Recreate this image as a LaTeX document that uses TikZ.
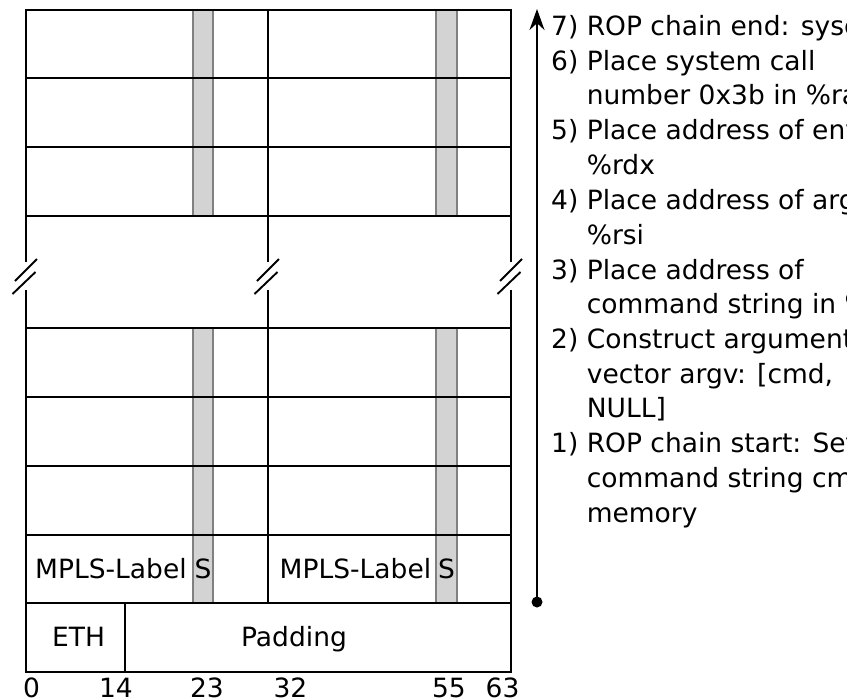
\documentclass[tikz,border=0pt]{standalone}
\usepackage{fontspec}
\setmainfont{DejaVu Sans}
\usepackage{tikz}
\usetikzlibrary{arrows.meta,positioning}
\definecolor{sbitFill}{HTML}{D3D3D3}
\definecolor{sbitLine}{HTML}{808080}
\tikzset{
  gridLine/.style={
    draw=black,
    line width=1.8pt
  },
  sbitBar/.style={
    fill=sbitFill,
    draw=sbitLine,
    line width=1.6pt
  },
  breakSlash/.style={
    draw=black,
    line width=1.9pt
  },
  cellText/.style={
    font=\fontsize{26.5}{34.6}\selectfont,
    inner sep=0pt
  },
  bitLabel/.style={
    cellText,
    anchor=base
  },
  stepText/.style={
    cellText,
    anchor=north west
  },
  chainArrow/.style={
    -{Stealth[length=21pt,width=15pt]},
    line width=1.9pt,
    draw=black
  }
}
\newcommand{\breakmark}[1]{%
  \draw[breakSlash] (#1-11,281) -- (#1+11,259) (#1-13.5,294) -- (#1+9.5,272);}
\newcommand{\steplines}[2]{\begin{tabular}{@{}l@{\ }l@{}}#1 & #2\end{tabular}}

\begin{document}
\begin{tikzpicture}[x=1pt,y=-1pt]
  \useasboundingbox (0,0) rectangle (867,699);
  \clip (0,0) rectangle (846,699);

  % S bit columns
  \filldraw[sbitBar] (193,10) rectangle (213,216);
  \filldraw[sbitBar] (193,328) rectangle (213,603);
  \filldraw[sbitBar] (436,10) rectangle (457,216);
  \filldraw[sbitBar] (436,328) rectangle (457,603);

  % frame and rows
  \draw[gridLine] (26,262) -- (26,10) -- (511,10) -- (511,262);
  \draw[gridLine] (26,290) -- (26,672) -- (511,672) -- (511,290);
  \draw[gridLine] (268,10) -- (268,262) (268,290) -- (268,603);
  \draw[gridLine] (26,78) -- (511,78) (26,147) -- (511,147) (26,216) -- (511,216);
  \draw[gridLine] (26,328) -- (511,328) (26,397) -- (511,397) (26,466) -- (511,466);
  \draw[gridLine] (26,535) -- (511,535) (26,603) -- (511,603);
  \draw[gridLine] (125,603) -- (125,672);

  % cut marks
  \breakmark{26}
  \breakmark{268}
  \breakmark{511}

  \node[cellText, anchor=base west] (label1) at (35,578) {MPLS-Label};
  \node[cellText, anchor=base] (sbit1) at (203,578) {S};
  \node[cellText, anchor=base west] (label2) at (279.5,578) {MPLS-Label};
  \node[cellText, anchor=base] (sbit2) at (446.5,578) {S};
  \node[cellText, anchor=base] (eth) at (78.5,646) {ETH};
  \node[cellText, anchor=base] (padding) at (294,646) {Padding};

  \node[bitLabel] (bit0) at (31.5,697.5) {0};
  \node[bitLabel] (bit14) at (116,697.5) {14};
  \node[bitLabel] (bit23) at (207,697.5) {23};
  \node[bitLabel] (bit32) at (290.5,697.5) {32};
  \node[bitLabel] (bit55) at (449,697.5) {55};
  \node[bitLabel] (bit63) at (502.5,697.5) {63};

  % chain order
  \coordinate (chainStart) at (537,602);
  \coordinate (chainEnd) at (537,9);
  \draw[chainArrow] (chainStart) -- (chainEnd);
  \fill (chainStart) circle (5.5);

  \node[stepText] (s7) at (551,10.8) {\steplines{7)}{ROP chain end: syscall}};
  \node[stepText, below=0pt of s7.south west, anchor=north west] (s6)
    {\steplines{6)}{Place system call\\ & number 0x3b in \%rax}};
  \node[stepText, below=0pt of s6.south west, anchor=north west] (s5)
    {\steplines{5)}{Place address of envp in\\ & \%rdx}};
  \node[stepText, below=0pt of s5.south west, anchor=north west] (s4)
    {\steplines{4)}{Place address of argv in\\ & \%rsi}};
  \node[stepText, below=0pt of s4.south west, anchor=north west] (s3)
    {\steplines{3)}{Place address of\\ & command string in \%rdi}};
  \node[stepText, below=0pt of s3.south west, anchor=north west] (s2)
    {\steplines{2)}{Construct argument\\ & vector argv: [cmd,\\ & NULL]}};
  \node[stepText, below=0pt of s2.south west, anchor=north west] (s1)
    {\steplines{1)}{ROP chain start: Set up\\ & command string cmd in\\ & memory}};
\end{tikzpicture}
\end{document}
